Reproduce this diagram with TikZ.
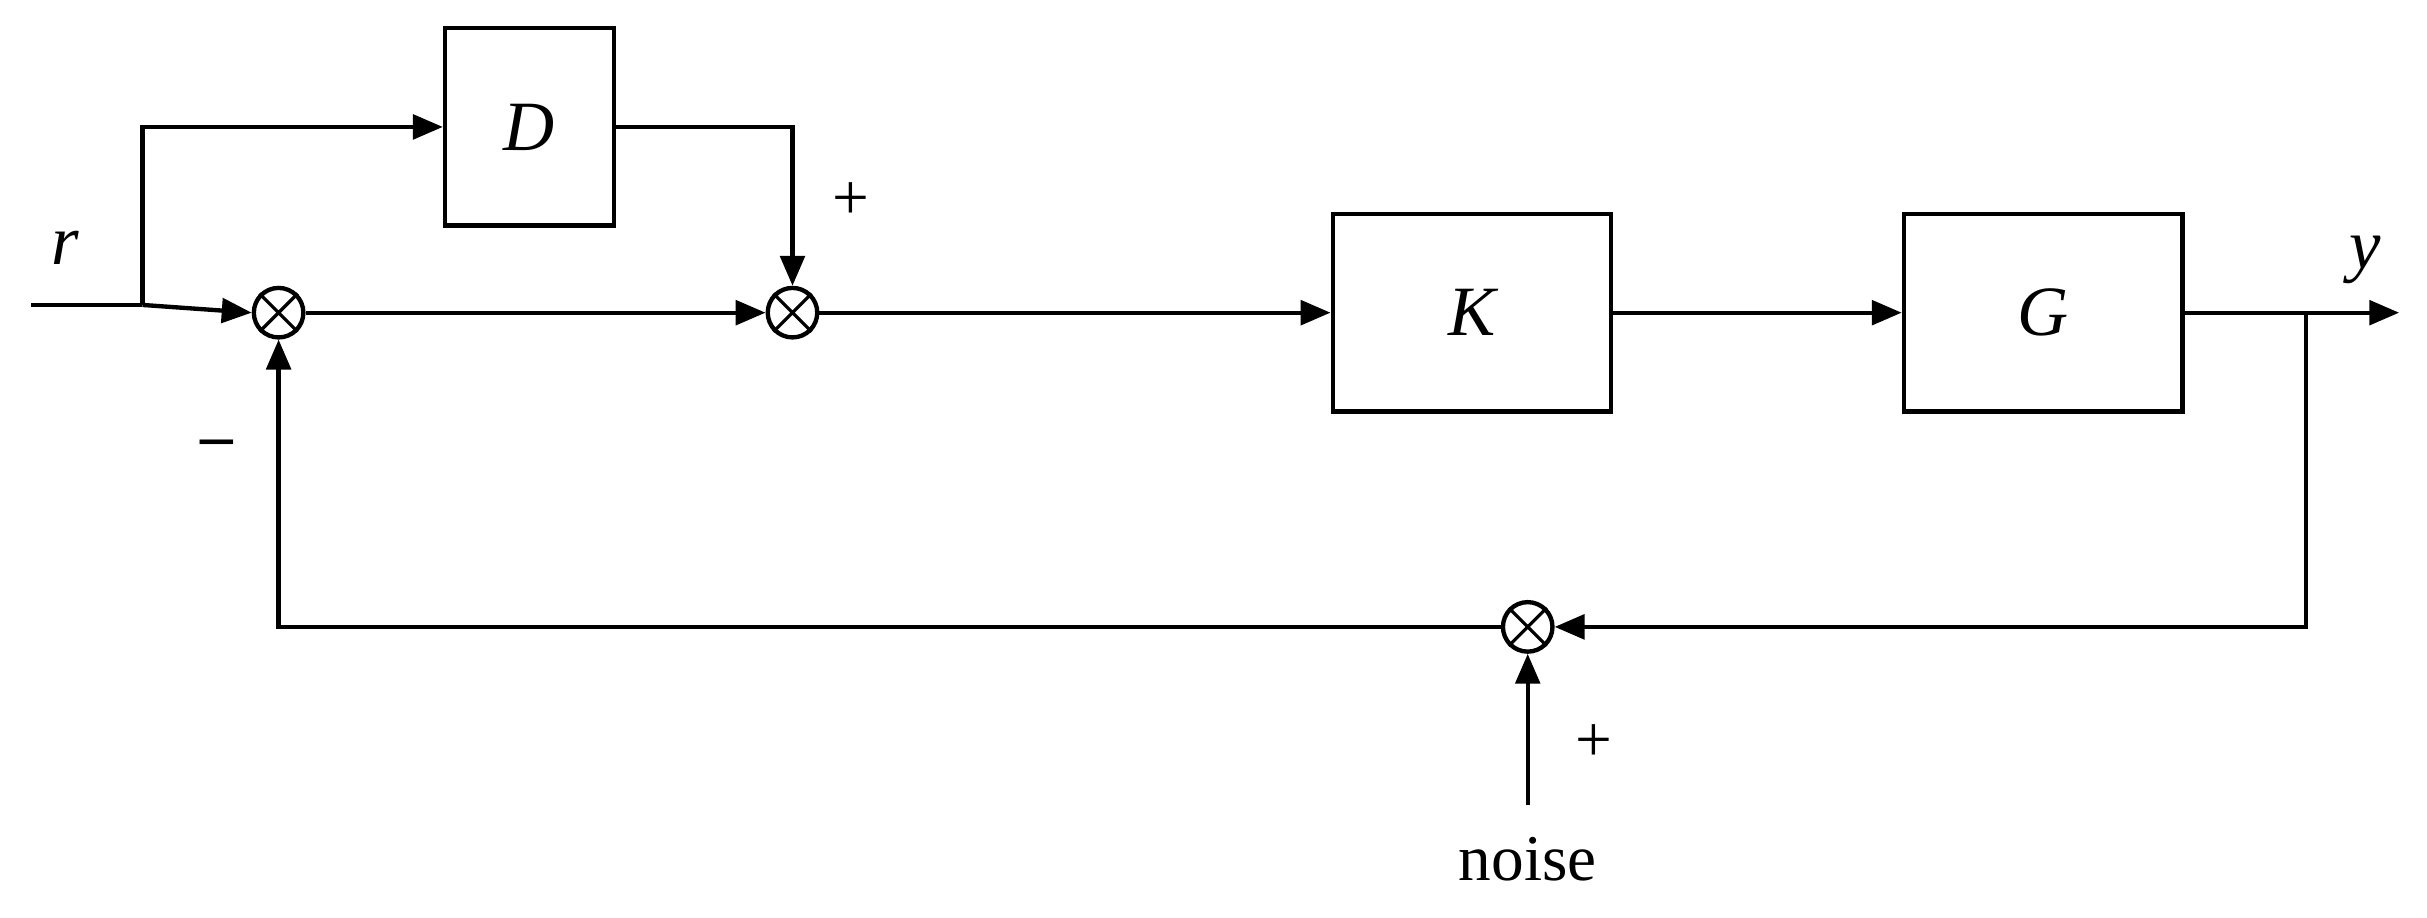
\documentclass[tikz,border=0pt]{standalone}
\usepackage{fontspec}
\setmainfont{Liberation Serif}
\usetikzlibrary{arrows.meta}
\begin{document}
\begin{tikzpicture}[x=0.02cm,y=-0.02cm,
  line width=1.6pt,
  >={Triangle[length=11pt,width=9pt]},
  blk/.style={draw,minimum width=3.6cm,minimum height=2.55cm,font=\fontsize{26}{30}\selectfont\itshape},
  sum/.style={draw,circle,minimum size=0.64cm,inner sep=0pt},
  lbl/.style={font=\fontsize{24}{28}\selectfont}]
\useasboundingbox (0,0) rectangle (1568,593);
\node[blk,minimum width=2.18cm] (D) at (342,82) {D};
\node[blk] (K) at (951,202) {K};
\node[blk] (G) at (1320,202) {G};
\node[sum] (s1) at (180,202) {};
\node[sum] (s2) at (512,202) {};
\node[sum] (s3) at (987,405) {};
\foreach \s in {s1,s2,s3}{
  \draw[line width=1.2pt] (\s.45) -- (\s.225) (\s.135) -- (\s.315);}
\coordinate (in) at (20,197);
\coordinate (b1) at (92,197);
\coordinate (out) at (1550,202);
\coordinate (b2) at (1490,202);
\coordinate (nz) at (987,520);
\draw (in) -- (b1);
\draw[->] (b1) -- (s1.west);
\draw[->] (b1) |- (D.west);
\draw[->] (D.east) -| (s2.north);
\draw[->] (s1.east) -- (s2.west);
\draw[->] (s2.east) -- (K.west);
\draw[->] (K.east) -- (G.west);
\draw[->] (G.east) -- (out);
\draw[->] (b2) |- (s3.east);
\draw[->] (s3.west) -| (s1.south);
\draw[->] (nz) -- (s3.south);
\node[lbl,font=\fontsize{26}{30}\selectfont\itshape] (r) at (42,160) {r};
\node[lbl,font=\fontsize{26}{30}\selectfont\itshape] (y) at (1528,168) {y};
\node[lbl] (p1) at (550,130) {+};
\node[lbl] (m1) at (140,290) {\textbf{--}};
\node[lbl] (p2) at (1030,480) {+};
\node[lbl] (n) at (987,555) {noise};
\end{tikzpicture}
\end{document}
